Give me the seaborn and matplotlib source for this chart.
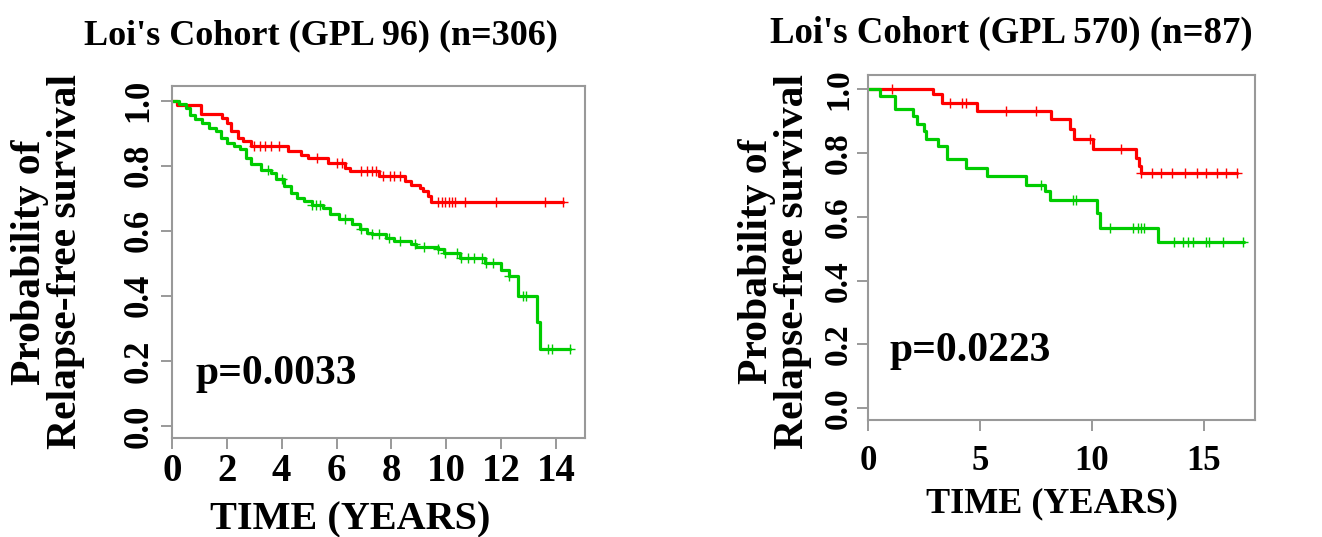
import numpy as np
import pandas as pd
import matplotlib
matplotlib.use("Agg")
import matplotlib.pyplot as plt
import seaborn as sns

# ---------------- data ----------------
titles = ["Loi's Cohort (GPL 96) (n=306)", "Loi's Cohort (GPL 570) (n=87)"]
p_values = ["p=0.0033", "p=0.0223"]
x_label = "TIME (YEARS)"
y_label = "Probability of\nRelapse-free survival"
y_ticks = [0.0, 0.2, 0.4, 0.6, 0.8, 1.0]
y_tick_labels = ["0.0", "0.2", "0.4", "0.6", "0.8", "1.0"]
left_x_ticks = [0, 2, 4, 6, 8, 10, 12, 14]
right_x_ticks = [0, 5, 10, 15]

# Left cohort (GPL 96) – red group
gpl96_red_time = [0, 0.17, 1.08, 1.81, 2.0, 2.15, 2.4, 2.6, 2.9, 4.25, 4.7, 4.95,
                  5.7, 6.3, 6.5, 7.55, 8.49, 8.73, 9.03, 9.15, 9.33, 9.46, 14.26]
gpl96_red_surv = [1.0, 0.988, 0.96, 0.947, 0.932, 0.906, 0.885, 0.875, 0.86, 0.845,
                  0.834, 0.824, 0.809, 0.794, 0.783, 0.768, 0.752, 0.742, 0.732,
                  0.722, 0.706, 0.689, 0.689]
gpl96_red_censor = [3.0, 3.2, 3.4, 3.6, 3.9, 5.3, 6.0, 6.2, 6.9, 7.1, 7.3, 7.45,
                    7.7, 7.95, 8.1, 8.3, 9.7, 9.85, 9.95, 10.1, 10.2, 10.3, 10.7,
                    11.8, 13.6, 14.25]

# Left cohort (GPL 96) – green group
gpl96_green_time = [0, 0.25, 0.5, 0.65, 0.85, 1.1, 1.35, 1.6, 1.8, 2.0, 2.25, 2.5,
                    2.7, 2.9, 3.25, 3.6, 3.8, 4.1, 4.35, 4.55, 4.8, 5.1, 5.5, 5.75,
                    6.1, 6.55, 6.85, 7.1, 7.3, 7.8, 8.1, 8.7, 8.9, 9.7, 9.9, 10.5,
                    11.4, 12.0, 12.3, 12.6, 13.29, 13.4, 14.5]
gpl96_green_surv = [1.0, 0.99, 0.977, 0.957, 0.942, 0.932, 0.916, 0.906, 0.885,
                    0.87, 0.86, 0.85, 0.824, 0.804, 0.788, 0.778, 0.758, 0.737,
                    0.716, 0.70, 0.69, 0.68, 0.67, 0.65, 0.635, 0.62, 0.604,
                    0.594, 0.589, 0.579, 0.568, 0.558, 0.551, 0.543, 0.532,
                    0.517, 0.502, 0.478, 0.46, 0.40, 0.318, 0.238, 0.238]
gpl96_green_censor = [3.5, 4.0, 5.1, 5.25, 5.4, 6.3, 6.9, 7.3, 7.55, 7.9, 8.3,
                      8.85, 9.2, 9.7, 9.95, 10.4, 10.55, 10.8, 11.0, 11.3, 11.45,
                      11.7, 12.3, 12.8, 12.9, 13.7, 13.85, 14.5]

# Right cohort (GPL 570) – red group
gpl570_red_time = [0, 2.92, 3.3, 4.85, 8.2, 9.02, 9.2, 10.06, 11.96, 12.1, 12.2, 16.5]
gpl570_red_surv = [1.0, 0.984, 0.958, 0.932, 0.906, 0.874, 0.843, 0.813, 0.785,
                   0.758, 0.738, 0.738]
gpl570_red_censor = [1.06, 3.66, 4.18, 4.4, 6.19, 7.53, 9.91, 11.3, 12.2, 12.7,
                     13.1, 13.6, 14.15, 14.7, 15.1, 15.6, 16.0, 16.5]

# Right cohort (GPL 570) – green group
gpl570_green_time = [0, 0.54, 1.2, 2.02, 2.2, 2.5, 2.6, 3.13, 3.55, 4.4, 5.3, 7.08,
                     7.9, 8.15, 10.24, 10.35, 12.96, 16.83]
gpl570_green_surv = [1.0, 0.979, 0.937, 0.916, 0.89, 0.869, 0.843, 0.822, 0.78,
                     0.752, 0.727, 0.701, 0.68, 0.654, 0.612, 0.565, 0.52, 0.52]
gpl570_green_censor = [7.75, 9.17, 9.3, 10.8, 11.85, 12.07, 12.2, 12.35, 13.7,
                       14.1, 14.3, 14.55, 15.1, 15.25, 15.85, 16.75]

RED = "#ff0000"
GREEN = "#00cc00"

# ---------------- style ----------------
sns.set_style("white")
plt.rcParams["font.family"] = ["Liberation Serif", "DejaVu Serif"]
plt.rcParams["font.weight"] = "bold"
plt.rcParams["text.color"] = "black"
plt.rcParams["axes.labelcolor"] = "black"
plt.rcParams["xtick.color"] = "black"
plt.rcParams["ytick.color"] = "black"

fig = plt.figure(figsize=(13.22, 5.37), dpi=100)
ax_l = fig.add_axes([0.130, 0.1844, 0.3124, 0.6555])
ax_r = fig.add_axes([0.6566, 0.2179, 0.2927, 0.6425])


def step_at(times, surv, t):
    idx = np.searchsorted(np.asarray(times), t, side="right") - 1
    return np.asarray(surv)[np.clip(idx, 0, len(surv) - 1)]


def draw_group(ax, times, surv, censor, color):
    df = pd.DataFrame({"time": times, "surv": surv})
    sns.lineplot(data=df, x="time", y="surv", ax=ax, color=color, lw=2.3,
                 drawstyle="steps-post", estimator=None, sort=False,
                 errorbar=None, legend=False)
    cdf = pd.DataFrame({"time": censor,
                        "surv": step_at(times, surv, np.asarray(censor))})
    ax.scatter(cdf["time"], cdf["surv"], marker="+", s=60, color=color,
               linewidths=1.0, zorder=3)


draw_group(ax_l, gpl96_red_time, gpl96_red_surv, gpl96_red_censor, RED)
draw_group(ax_l, gpl96_green_time, gpl96_green_surv, gpl96_green_censor, GREEN)
draw_group(ax_r, gpl570_red_time, gpl570_red_surv, gpl570_red_censor, RED)
draw_group(ax_r, gpl570_green_time, gpl570_green_surv, gpl570_green_censor, GREEN)

settings = [
    # ax, xticks, xlim, xtick fs, ytick fs, xlabel fs, title fs, title x,
    # title pad, xtick pad, xlabel coords, p text, p pos
    (ax_l, left_x_ticks, (0, 15.05), 28, 25, 29, 26, 0.361, 30, 3,
     (0.433, -0.18), p_values[0], (0.85, 0.16)),
    (ax_r, right_x_ticks, (0, 17.3), 25, 24, 26, 26.5, 0.37, 23, 10,
     (0.475, -0.195), p_values[1], (0.95, 0.18)),
]
for i, (ax, xt, xl, xfs, yfs, xlfs, tfs, tx, tpad, xpad, xlc, ptxt, ppos) in enumerate(settings):
    ax.set_xlim(*xl)
    ax.set_ylim(-0.037, 1.045)
    ax.set_xticks(xt)
    ax.set_xticklabels([str(v) for v in xt], fontsize=xfs, fontweight="bold")
    ax.set_yticks(y_ticks)
    ax.set_yticklabels(y_tick_labels, fontsize=yfs, fontweight="bold",
                       rotation=90, va="center")
    ax.tick_params(axis="both", direction="out", length=8, width=1.2,
                   color="#888888", left=True, bottom=True, labelcolor="black")
    ax.tick_params(axis="x", pad=xpad)
    ax.tick_params(axis="y", pad=4 if i == 0 else 2)
    for sp in ax.spines.values():
        sp.set_color("#999999")
        sp.set_linewidth(1.5)
    ax.set_xlabel(x_label, fontsize=xlfs, fontweight="bold")
    ax.xaxis.set_label_coords(*xlc)
    ax.set_ylabel(y_label, fontsize=30, fontweight="bold", linespacing=0.95)
    ax.set_title(titles[i], fontsize=tfs, fontweight="bold", x=tx, pad=tpad)
    ax.text(ppos[0], ppos[1], ptxt, fontsize=30, fontweight="bold",
            ha="left", va="center", transform=ax.transData)

ax_l.yaxis.set_label_coords(-0.30, 0.5)
ax_l.yaxis.label.set_va("center")
ax_r.yaxis.set_label_coords(-0.24, 0.46)
ax_r.yaxis.label.set_va("center")

fig.savefig("out.png", dpi=100)
